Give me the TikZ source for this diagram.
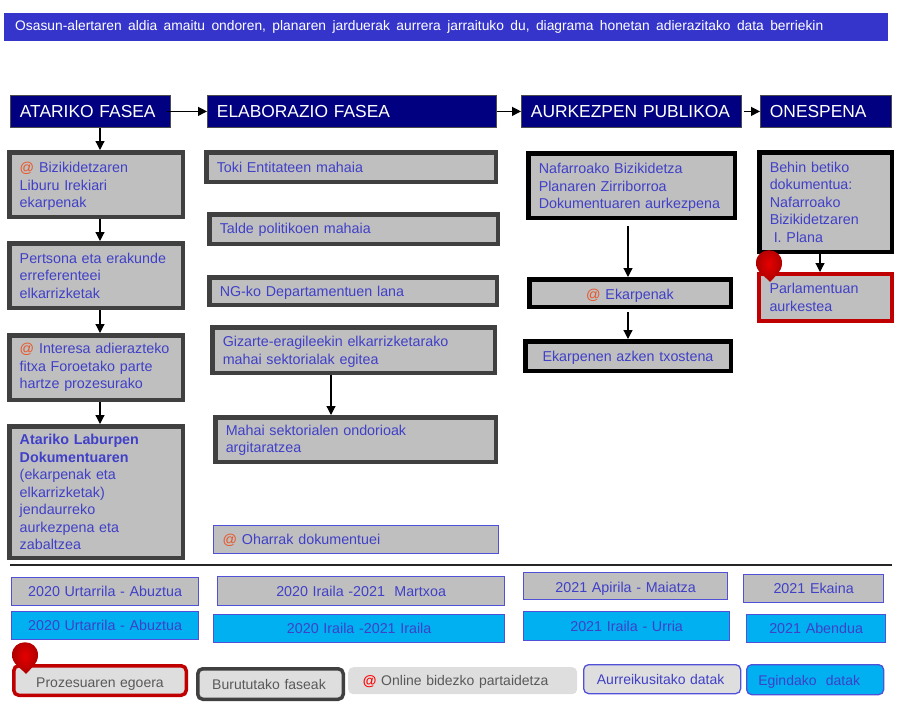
\documentclass[tikz,border=0pt]{standalone}
\usepackage{fontspec}
\setmainfont[WordSpace=1.4]{Liberation Sans}
\newfontfamily\dateface[WordSpace=1.08]{Liberation Sans}
\newfontfamily\legendface[WordSpace=1.18]{Liberation Sans}
\usepackage{xcolor}
\usetikzlibrary{arrows.meta, positioning, calc}
\definecolor{navyhead}{HTML}{000080}
\definecolor{bannerblue}{HTML}{3535CC}
\definecolor{boxgray}{HTML}{BFBFBF}
\definecolor{legendgray}{HTML}{DEDEDE}
\definecolor{darkframe}{HTML}{404040}
\definecolor{redframe}{HTML}{C00000}
\definecolor{textblue}{HTML}{4040C8}
\definecolor{thinblue}{HTML}{5050D8}
\definecolor{dategreen}{HTML}{00B0F0}
\definecolor{atorange}{HTML}{E8552A}
\newcommand{\atmark}{\textcolor{atorange}{@}}

\begin{document}
\begin{tikzpicture}[
  x=1pt, y=-1pt,
  body/.style={anchor=north west, rectangle, fill=boxgray, text=textblue, inner xsep=10.5pt, inner ysep=2pt, align=left, font=\fontsize{14.3}{17.5}\selectfont},
  phase/.style={body, draw=darkframe, line width=4.5pt},
  blackbox/.style={body, draw=black, line width=4.5pt},
  redbox/.style={body, draw=redframe, line width=4pt},
  lowered/.style={execute at begin node={\rule{0pt}{#1}}},
  head/.style={anchor=north west, rectangle, draw=black!70, line width=0.8pt, fill=navyhead, text=white, inner xsep=9.5pt, inner ysep=0pt, align=left, font=\fontsize{17.4}{20}\selectfont},
  datebox/.style={anchor=north west, rectangle, draw=thinblue, line width=1.3pt, text=textblue, inner sep=0pt, align=center, font=\dateface\fontsize{14.3}{17}\selectfont},
  planned/.style={datebox, fill=boxgray},
  done/.style={datebox, fill=dategreen},
  legend/.style={anchor=north west, rectangle, rounded corners=5pt, inner sep=0pt, align=center, font=\legendface\fontsize{14}{17}\selectfont},
  arr/.style={-{Triangle[length=9pt, width=9pt]}, line width=1.2pt, black},
  redpin/.pic={
    \shade[inner color=red!90!black, outer color=redframe!90!black] (1,19) .. controls (-4,13) and (-13,9) .. (-13,0) .. controls (-13,-17) and (13,-17) .. (13,0) .. controls (13,9) and (6,13) .. (1,19) -- cycle;
  }
]
\useasboundingbox (0,0) rectangle (900,705);
\node[anchor=north west, rectangle, fill=bannerblue, text=white, minimum width=884pt, minimum height=28pt, inner xsep=11pt, inner ysep=0pt, text width=862pt, align=left, font=\fontsize{13.8}{16}\selectfont] (banner) at (4,13) {\spaceskip=6.4pt\relax Osasun-alertaren aldia amaitu ondoren, planaren jarduerak aurrera jarraituko du, diagrama honetan adierazitako data berriekin};
% phases
\node[head, text width=141pt, minimum height=32pt] (ataria) at (10,95) {ATARIKO FASEA};
\node[head, text width=270pt, minimum height=32pt] (elab) at (207,95) {ELABORAZIO FASEA};
\node[head, text width=201pt, minimum height=32pt] (aurk) at (521,95) {AURKEZPEN PUBLIKOA};
\node[head, text width=112pt, minimum height=32pt] (onesp) at (760,95) {ONESPENA};
% first column
\node[phase, lowered=14.3pt, text width=152.5pt, minimum height=64.5pt] (liburu) at (7,150) {\atmark{} Bizikidetzaren\\Liburu Irekiari\\ekarpenak};
\node[phase, text width=152.5pt, minimum height=64.5pt] (pertsona) at (7,241) {Pertsona eta erakunde\\erreferenteei\\elkarrizketak};
\node[phase, text width=152.5pt, minimum height=64.5pt] (interesa) at (7,333) {\atmark{} Interesa adierazteko\\fitxa Foroetako parte\\hartze prozesurako};
\node[phase, text width=152.5pt, minimum height=131.5pt] (laburpen) at (7,424) {\textbf{Atariko Laburpen}\\\textbf{Dokumentuaren}\\(ekarpenak eta\\elkarrizketak)\\jendaurreko\\aurkezpena eta\\zabaltzea};
% second column
\node[phase, text width=268.5pt, minimum height=29.5pt] (toki) at (204,150) {Toki Entitateen mahaia};
\node[phase, lowered=12.3pt, text width=267.5pt, minimum height=29.5pt] (talde) at (207,212) {Talde politikoen mahaia};
\node[phase, lowered=14.3pt, text width=266.5pt, minimum height=27.5pt] (departam) at (207,275) {NG-ko Departamentuen lana};
\node[phase, lowered=14.3pt, text width=261.5pt, minimum height=45.5pt] (gizarte) at (210,325) {Gizarte-eragileekin elkarrizketarako\\mahai sektorialak egitea};
\node[phase, lowered=12.3pt, text width=259.5pt, minimum height=44.5pt] (ondorio) at (213,415) {Mahai sektorialen ondorioak\\argitaratzea};
\node[body, draw=thinblue, line width=1.3pt, lowered=12.3pt, inner xsep=9pt, text width=267pt, minimum height=28pt] (oharrak) at (213,525) {\atmark{} Oharrak dokumentuei};
% third column
\node[blackbox, lowered=14.3pt, text width=185.5pt, minimum height=64.5pt] (zirri) at (526,151) {Nafarroako Bizikidetza\\Planaren Zirriborroa\\Dokumentuaren aurkezpena};
\node[blackbox, lowered=16.3pt, align=center, text width=180.5pt, minimum height=27.5pt] (ekarp) at (527,277) {\atmark{} Ekarpenak};
\node[blackbox, lowered=14.3pt, align=center, text width=184.5pt, minimum height=29.5pt] (txosten) at (523,339) {Ekarpenen azken txostena};
% fourth column
\node[blackbox, text width=111.5pt, minimum height=99.5pt] (behin) at (757,150) {Behin betiko\\dokumentua:\\Nafarroako\\Bizikidetzaren\\\hspace*{4pt}I. Plana};
\node[redbox, text width=112pt, minimum height=47pt] (parlam) at (757,272) {Parlamentuan\\aurkestea};
% dates
\draw[line width=1.2pt, black!85] (10,565) coordinate (sepl) -- (892,565) coordinate (sepr);
\node[planned, minimum width=187pt, minimum height=28pt] (datea) at (11,577) {2020 Urtarrila - Abuztua};
\node[done, minimum width=187pt, minimum height=28pt] (dateb) at (11,611) {2020 Urtarrila - Abuztua};
\node[planned, minimum width=287pt, minimum height=29pt] (datec) at (217,576) {2020 Iraila -2021 \ Martxoa};
\node[done, minimum width=291pt, minimum height=28pt] (dated) at (213,614) {2020 Iraila -2021 Iraila};
\node[planned, lowered=15pt, minimum width=204pt, minimum height=27pt] (datee) at (523,572) {2021 Apirila - Maiatza};
\node[done, minimum width=206pt, minimum height=29pt] (datef) at (523,611) {2021 Iraila - Urria};
\node[planned, minimum width=140pt, minimum height=28pt] (dateg) at (743,574) {2021 Ekaina};
\node[done, minimum width=139pt, minimum height=28pt] (dateh) at (746,614) {2021 Abendua};
% legend
\node[legend, lowered=17pt, draw=redframe, line width=3.5pt, fill=legendgray, text=black!65, minimum width=172.5pt, minimum height=29.5pt] (egoera) at (12,664) {Prozesuaren egoera};
\node[legend, draw=darkframe, line width=3.5pt, fill=legendgray, text=black!65, minimum width=145.5pt, minimum height=30.5pt] (burutu) at (196,667) {Burututako faseak\hspace*{3pt}};
\node[legend, lowered=13pt, fill=legendgray, text=black!65, minimum width=229pt, minimum height=27pt] (online) at (348,667) {\textcolor{red}{\textbf{@}} Online bidezko partaidetza\hspace*{14pt}};
\node[legend, draw=thinblue, line width=1.3pt, fill=legendgray, text=textblue, minimum width=157pt, minimum height=29pt] (aurreik) at (583,664) {Aurreikusitako datak\hspace*{3pt}};
\node[legend, lowered=15pt, draw=thinblue, line width=1.3pt, fill=dategreen, text=textblue, minimum width=137pt, minimum height=30pt] (egindak) at (746,664) {Egindako \ datak\hspace*{12pt}};
% connectors
\coordinate (colone) at (100,0);
\coordinate (coltwo) at (331,0);
\coordinate (colthree) at (628,0);
\coordinate (colfour) at (820,0);
\draw[arr] ([xshift=-4pt]ataria.east) -- (elab.west);
\draw[arr] (elab.east) -- (aurk.west);
\draw[arr] ([xshift=2pt]aurk.east) -- (onesp.west);
\draw[arr] (ataria.south -| colone) -- (liburu.north -| colone);
\draw[arr] (liburu.south -| colone) -- (pertsona.north -| colone);
\draw[arr] (pertsona.south -| colone) -- (interesa.north -| colone);
\draw[arr] (interesa.south -| colone) -- (laburpen.north -| colone);
\draw[arr] (gizarte.south -| coltwo) -- (ondorio.north -| coltwo);
\draw[arr] ([yshift=-6pt]zirri.south -| colthree) -- (ekarp.north -| colthree);
\draw[arr] ([yshift=-3pt]ekarp.south -| colthree) -- (txosten.north -| colthree);
\draw[arr] (behin.south -| colfour) -- (parlam.north -| colfour);
% pins
\pic at (769,263) {redpin};
\pic at (25,655) {redpin};
\end{tikzpicture}
\end{document}
